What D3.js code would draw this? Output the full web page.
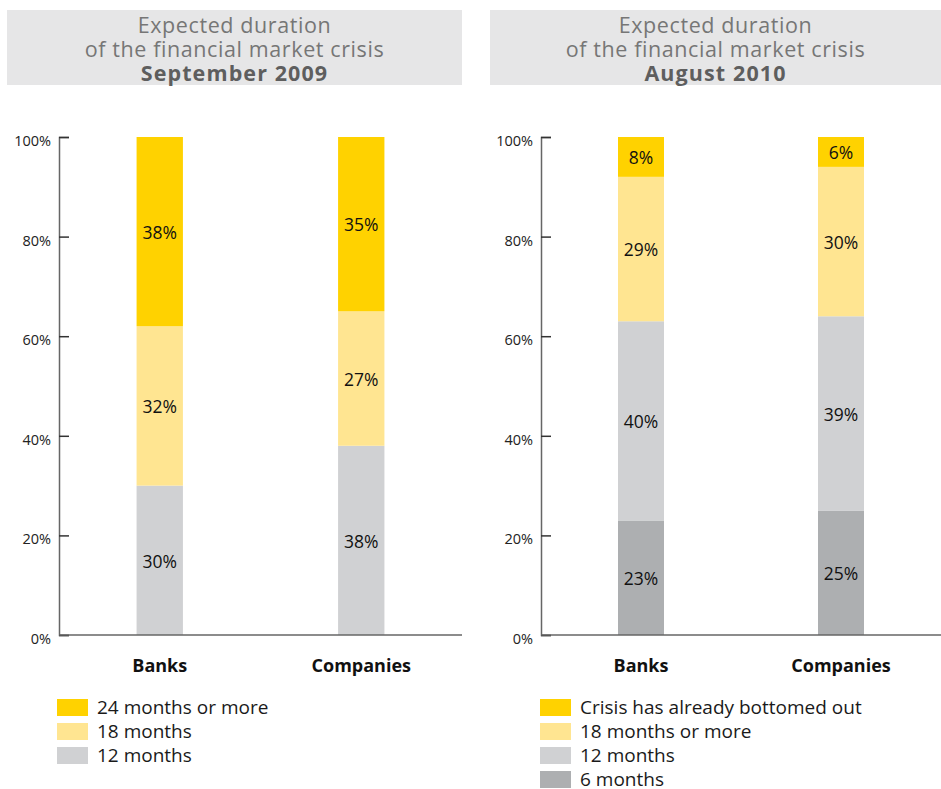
<!DOCTYPE html>
<html>
<head>
<meta charset="utf-8">
<script src="https://cdn.jsdelivr.net/npm/d3@7"></script>
<style>
  html, body { margin: 0; padding: 0; background: #ffffff; }
  svg { display: block; font-family: "Open Sans", "DejaVu Sans", sans-serif; }
</style>
</head>
<body>
<svg id="chart" width="941" height="789"></svg>
<script>
// Survey data: expected duration of the financial market crisis
const categories = ["Banks", "Companies"];
const yTicks = [0, 20, 40, 60, 80, 100];

// September 2009 (stack order bottom to top)
const seriesSep2009 = ["12 months", "18 months", "24 months or more"];
const valuesSep2009 = {
  "12 months":         [30, 38],
  "18 months":         [32, 27],
  "24 months or more": [38, 35]
};

// August 2010 (stack order bottom to top)
const seriesAug2010 = ["6 months", "12 months", "18 months or more", "Crisis has already bottomed out"];
const valuesAug2010 = {
  "6 months":                        [23, 25],
  "12 months":                       [40, 39],
  "18 months or more":               [29, 30],
  "Crisis has already bottomed out": [8, 6]
};

const colorsSep2009 = ["#d0d1d3", "#ffe591", "#ffd200"];
const colorsAug2010 = ["#adafb1", "#d0d1d3", "#ffe591", "#ffd200"];

const svg = d3.select("#chart");

function drawPanel(opts) {
  const g = svg.append("g");

  // title box
  g.append("rect")
    .attr("x", opts.boxX).attr("y", 10)
    .attr("width", opts.boxW).attr("height", 75)
    .attr("fill", "#e6e6e7");
  const cx = opts.boxX + opts.boxW / 2;
  const titleLines = ["Expected duration", "of the financial market crisis"];
  g.selectAll("text.title").data(titleLines).join("text")
    .attr("class", "title")
    .attr("x", cx).attr("y", (d, i) => 33 + i * 24)
    .attr("text-anchor", "middle").attr("fill", "#767676")
    .style("font-size", "21.5px").style("letter-spacing", "0.6px")
    .text(d => d);
  g.append("text")
    .attr("x", cx).attr("y", 81)
    .attr("text-anchor", "middle").attr("font-weight", "bold").attr("fill", "#5e5e5e")
    .style("font-size", "21.5px").style("letter-spacing", "1.1px")
    .text(opts.period);

  const axisX = opts.axisX;
  const y = d3.scaleLinear().domain([0, 100]).range([635, 137]);
  const x = d3.scaleBand().domain(categories)
    .range([axisX, opts.axisEnd]).paddingInner(0.77).paddingOuter(0.385);

  // stacked bars
  const rows = categories.map((c, i) => {
    const r = { category: c };
    opts.series.forEach(s => { r[s] = opts.values[s][i]; });
    return r;
  });
  const stacked = d3.stack().keys(opts.series)(rows);
  const layers = g.selectAll("g.layer").data(stacked).join("g")
    .attr("class", "layer")
    .attr("fill", (d, i) => opts.colors[i]);
  layers.selectAll("rect").data(d => d).join("rect")
    .attr("x", d => x(d.data.category))
    .attr("width", x.bandwidth())
    .attr("y", d => y(d[1]))
    .attr("height", d => y(d[0]) - y(d[1]));
  layers.selectAll("text").data(d => d).join("text")
    .attr("x", d => x(d.data.category) + x.bandwidth() / 2)
    .attr("y", d => (y(d[0]) + y(d[1])) / 2 + 1)
    .attr("dy", "0.36em")
    .attr("text-anchor", "middle")
    .attr("fill", "#111")
    .style("font-size", "17.5px")
    .text(d => (d[1] - d[0]) + "%");

  // y axis with inward ticks
  const yAxis = d3.axisRight(y).tickValues(yTicks).tickSize(10).tickFormat(() => "");
  const ya = g.append("g").attr("transform", `translate(${axisX},0)`).call(yAxis);
  ya.select(".domain").attr("stroke", "#666").attr("stroke-width", 1.5);
  ya.selectAll(".tick line").attr("stroke", "#333").attr("stroke-width", 1.5);
  g.selectAll("text.ytl").data(yTicks).join("text")
    .attr("class", "ytl")
    .attr("x", axisX - 8).attr("y", d => y(d) + 9)
    .attr("text-anchor", "end").attr("fill", "#222")
    .style("font-size", "14.5px")
    .text(d => d + "%");

  // baseline
  g.append("line")
    .attr("x1", axisX).attr("x2", opts.axisEnd)
    .attr("y1", y(0)).attr("y2", y(0))
    .attr("stroke", "#666").attr("stroke-width", 1.5);

  // category labels
  g.selectAll("text.cat").data(categories).join("text")
    .attr("class", "cat")
    .attr("x", d => x(d) + x.bandwidth() / 2)
    .attr("y", 672)
    .attr("text-anchor", "middle").attr("font-weight", "bold")
    .attr("fill", "#111")
    .style("font-size", "18px")
    .text(d => d);

  // legend (top item = top of stack)
  const legendItems = opts.series.map((s, i) => ({ name: s, color: opts.colors[i] })).reverse();
  const lg = g.selectAll("g.leg").data(legendItems).join("g")
    .attr("class", "leg")
    .attr("transform", (d, i) => `translate(${opts.legendX},${699 + i * 24})`);
  lg.append("rect").attr("width", 31).attr("height", 17).attr("fill", d => d.color);
  lg.append("text").attr("x", 40).attr("y", 15)
    .attr("fill", "#1a1a1a").style("font-size", "19px")
    .text(d => d.name);
}

drawPanel({
  boxX: 7, boxW: 455, period: "September 2009",
  axisX: 59, axisEnd: 462, legendX: 57,
  series: seriesSep2009, values: valuesSep2009, colors: colorsSep2009
});
drawPanel({
  boxX: 490, boxW: 451, period: "August 2010",
  axisX: 541, axisEnd: 941, legendX: 540,
  series: seriesAug2010, values: valuesAug2010, colors: colorsAug2010
});
</script>
</body>
</html>
